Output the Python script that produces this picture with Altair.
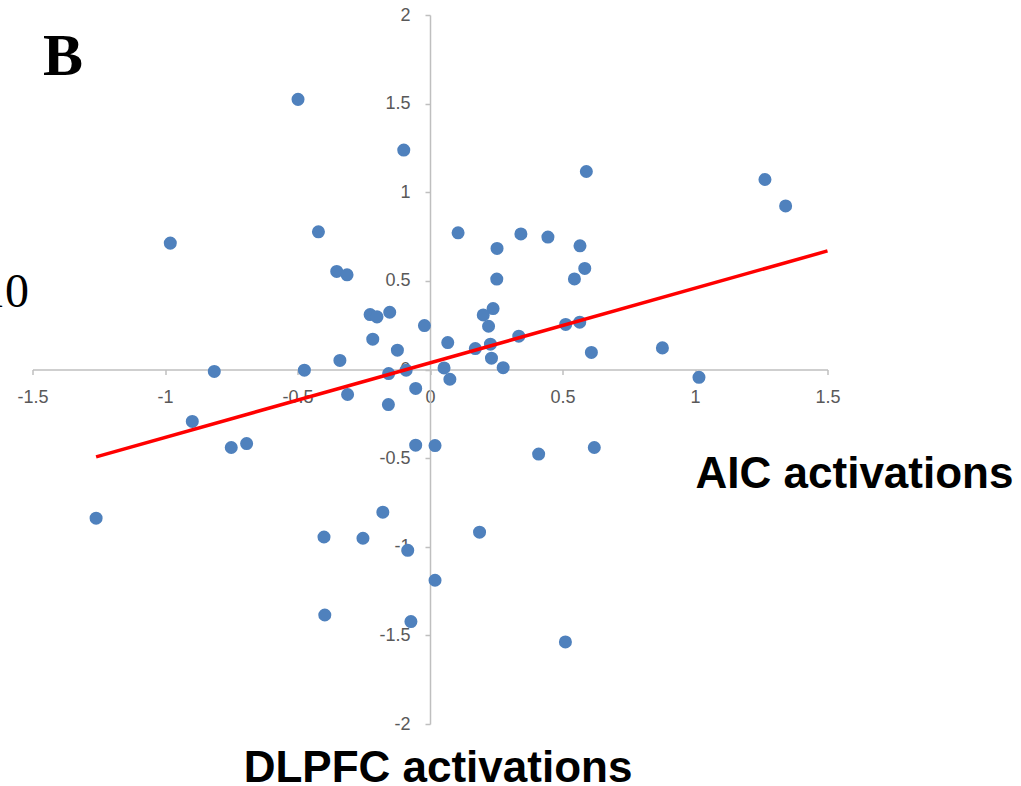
import altair as alt
import pandas as pd

# DLPFC activations (x) and AIC activations (y)
dlpfc = [-0.498, -0.099, -0.980, -0.421, -0.352, -0.313, -0.226, -0.200, -0.152, -0.021,
         -0.216, -0.123, -0.340, -0.814, -0.474, -0.156, -0.090, 0.053, -0.311, -0.054,
         -0.157, -0.897, -0.750, -0.692, -0.054, 0.019, -1.260, -0.178, -0.400, -0.253,
         -0.084, 0.019, -0.397, -0.072, 1.015, 0.620, 0.410, 0.187, 0.511, 0.075,
         0.276, 0.590, 1.264, 1.342, 0.106, 0.343, 0.445, 0.253, 0.566, 0.252,
         0.545, 0.584, 0.238, 0.201, 0.221, 0.067, 0.171, 0.228, 0.232, 0.335,
         0.512, 0.565, 0.609, 0.877]
aic = [1.524, 1.238, 0.713, 0.777, 0.553, 0.534, 0.310, 0.297, 0.323, 0.248,
       0.171, 0.109, 0.051, -0.011, -0.004, -0.023, -0.004, 0.009, -0.141, -0.107,
       -0.198, -0.293, -0.440, -0.418, -0.427, -0.429, -0.839, -0.805, -0.945, -0.952,
       -1.020, -1.189, -1.385, -1.422, -0.044, -0.440, -0.477, -0.918, -1.537, -0.055,
       0.010, 1.117, 1.072, 0.923, 0.771, 0.765, 0.747, 0.683, 0.698, 0.510,
       0.511, 0.570, 0.344, 0.308, 0.244, 0.152, 0.118, 0.143, 0.064, 0.188,
       0.254, 0.267, 0.096, 0.122]

# linear trend line end points
trend_x = [-1.26, 1.5]
trend_y = [-0.493, 0.669]

x_ticks = [-1.5, -1, -0.5, 0, 0.5, 1, 1.5]
y_ticks = [-2, -1.5, -1, -0.5, 0, 0.5, 1, 1.5, 2]

W, H = 795, 709
X0_PIX = 397.5   # pixel of x = 0 inside plot
Y0_PIX = 354.4   # pixel of y = 0 inside plot

pts = pd.DataFrame({"x": dlpfc, "y": aic})
trend = pd.DataFrame({"x": trend_x, "y": trend_y})

axis_common = dict(
    domainColor="#BFBFBF", domainWidth=1.5,
    tickColor="#BFBFBF", tickWidth=1.5, tickSize=5,
    labelFont="Liberation Sans", labelFontSize=18, labelColor="#595959",
    labelExpr="toString(datum.value)", labelOverlap=False, labelFlush=False,
    labelBound=False, grid=False, title=None,
)

xscale = alt.Scale(domain=[-1.5, 1.5], nice=False, zero=False)
yscale = alt.Scale(domain=[-2, 2], nice=False, zero=False)

points = alt.Chart(pts).mark_circle(size=170, opacity=1, color="#4F81BD").encode(
    x=alt.X("x:Q", scale=xscale,
            axis=alt.Axis(values=x_ticks, orient="bottom", offset=Y0_PIX - H,
                          labelPadding=14, **axis_common)),
    y=alt.Y("y:Q", scale=yscale,
            axis=alt.Axis(values=y_ticks, orient="left", offset=-X0_PIX,
                          labelPadding=15, **axis_common)),
)

line = alt.Chart(trend).mark_line(color="#FF0000", strokeWidth=3.5).encode(
    x=alt.X("x:Q", scale=xscale),
    y=alt.Y("y:Q", scale=yscale),
)

def label(txt, x, y, font, size, weight, align):
    return alt.Chart(pd.DataFrame({"t": [txt]})).mark_text(
        font=font, fontSize=size, fontWeight=weight, align=align,
        baseline="alphabetic", color="#000000",
    ).encode(text="t:N", x=alt.value(x), y=alt.value(y))

panel = label("B", 10.5, 60, "Liberation Serif", 60, "bold", "left")
ten = label("10", -3.5, 292, "Liberation Serif", 48, "normal", "right")
aic_title = label("AIC activations", 822, 473, "Liberation Sans", 44, "bold", "center")
dl_title = label("DLPFC activations", 405.5, 767, "Liberation Sans", 44, "bold", "center")

chart = alt.layer(points, line, panel, ten, aic_title, dl_title).properties(
    width=W, height=H,
    autosize=alt.AutoSizeParams(type="none"),
    padding={"left": 32.5, "top": 15, "right": 1021 - 32.5 - W, "bottom": 786 - 15 - H},
    background="white",
).configure_view(stroke=None)

chart.save("out.html", embed_options={"renderer": "svg", "actions": False})
